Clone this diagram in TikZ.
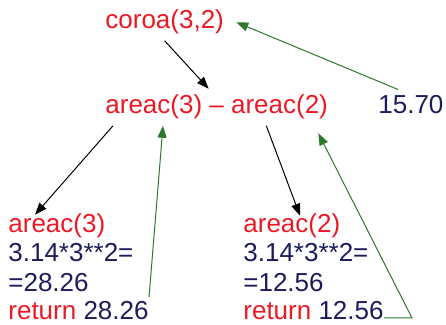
\documentclass[tikz,border=0pt]{standalone}
\usepackage{fontspec}
\setmainfont{Liberation Sans}
\usetikzlibrary{arrows.meta}
\definecolor{callred}{RGB}{235,25,35}
\definecolor{valnavy}{RGB}{28,28,92}
\definecolor{retgreen}{RGB}{45,120,45}

\begin{document}
\begin{tikzpicture}[x=0.5pt, y=-0.5pt,
	every node/.style={font=\fontsize{13}{14.5}\selectfont, inner sep=3pt, anchor=base west},
	fn/.style={text=callred}, val/.style={text=valnavy},
	call/.style={draw=black, line width=0.5pt, -{Triangle[length=6pt,width=4.5pt]}},
	back/.style={draw=retgreen, line width=0.5pt, -{Triangle[length=6pt,width=4.5pt]}}]
	\useasboundingbox (0,0) rectangle (446,325);
	% call tree
	\node[fn] (coroa) at (99,29) {coroa(3,2)};
	\node[fn] (diff) at (99,114) {areac(3) – areac(2)};
	\node[val] (total) at (372,114) {15.70};
	% left branch
	\node[fn] (a3) at (2,233) {areac(3)};
	\node[val] (a3calc) at (2,262) {3.14*3**2=};
	\node[val] (a3res) at (2,292) {=28.26};
	\node[val] (a3ret) at (2,320) {\textcolor{callred}{return} 28.26};
	% right branch
	\node[fn] (a2) at (237,233) {areac(2)};
	\node[val] (a2calc) at (237,262) {3.14*3**2=};
	\node[val] (a2res) at (237,292) {=12.56};
	\node[val] (a2ret) at (237,320) {\textcolor{callred}{return} 12.56};
	\coordinate (bend) at (412,318);
	% calls
	\draw[call] (coroa.south) -- ([xshift=-4pt]diff.north);
	\draw[call] ([xshift=7pt]diff.south west) -- ([shift={(16.5pt,-3.5pt)}]a3.north west);
	\draw[call] ([xshift=-34pt]diff.south east) -- ([shift={(31.5pt,-4pt)}]a2.north west);
	% returns
	\draw[back] ([xshift=-6.5pt]total.north) -- ([xshift=3pt]coroa.east);
	\draw[back] ([shift={(-3pt,-1pt)}]a3ret.north east) -- ([xshift=32pt]diff.south west);
	\draw[back] ([shift={(-3pt,1pt)}]a2ret.base east) -- (bend) -- ([shift={(-8pt,-3.75pt)}]diff.south east);
\end{tikzpicture}
\end{document}
